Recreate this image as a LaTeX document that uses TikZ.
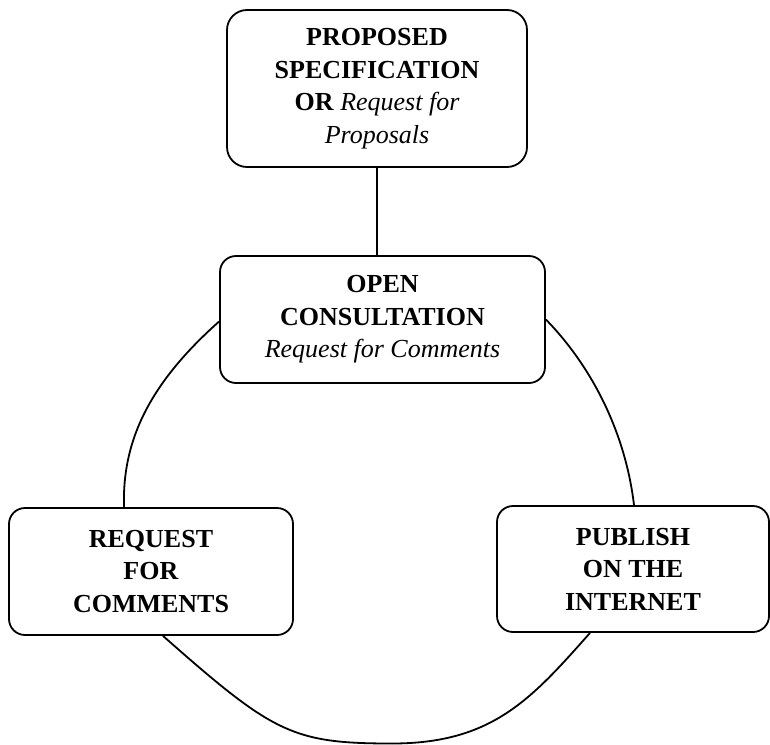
\documentclass[tikz,border=0pt]{standalone}
\usepackage{fontspec}
\setmainfont{Liberation Serif}
\usetikzlibrary{calc}
\tikzset{
  box/.style={draw, line width=1.8pt, rounded corners=#1, align=center, inner sep=0pt,
    font=\fontsize{26}{32.5}\selectfont},
  box/.default=16pt,
  link/.style={line width=1.8pt}
}
\begin{document}
\begin{tikzpicture}[x=1pt,y=-1pt]
\useasboundingbox (0,0) rectangle (770,744);
\node[box=20pt, minimum width=300pt, minimum height=157pt] (prop) at (377,88.5)
  {\textbf{PROPOSED}\\\textbf{SPECIFICATION}\\\textbf{OR} \textit{Request for}\\\textit{Proposals}};
\node[box, minimum width=325pt, minimum height=127pt] (open) at (382.5,319.5)
  {\textbf{OPEN}\\\textbf{CONSULTATION}\\\textit{Request for Comments}};
\node[box, minimum width=284pt, minimum height=127pt] (rfc) at (151,571.5)
  {\textbf{REQUEST}\\\textbf{FOR}\\\textbf{COMMENTS}};
\node[box, minimum width=272pt, minimum height=126pt] (pub) at (633,569)
  {\textbf{PUBLISH}\\\textbf{ON THE}\\\textbf{INTERNET}};
\coordinate (bot) at (392,743.5);
\draw[link] (prop.south) -- (open.north -| prop.south);
\draw[link] ([yshift=-2pt]open.west) .. controls (150,383) and (122,440) .. ([xshift=-27pt]rfc.north);
\draw[link] (open.east) .. controls (595,370) and (626,437) .. ([xshift=1pt]pub.north);
\draw[link] ([xshift=12pt]rfc.south) .. controls (273,733) and (292,743.5) .. (bot);
\draw[link] (bot) .. controls (492,743.5) and (531,699.5) .. ([xshift=-43pt]pub.south);
\end{tikzpicture}
\end{document}
